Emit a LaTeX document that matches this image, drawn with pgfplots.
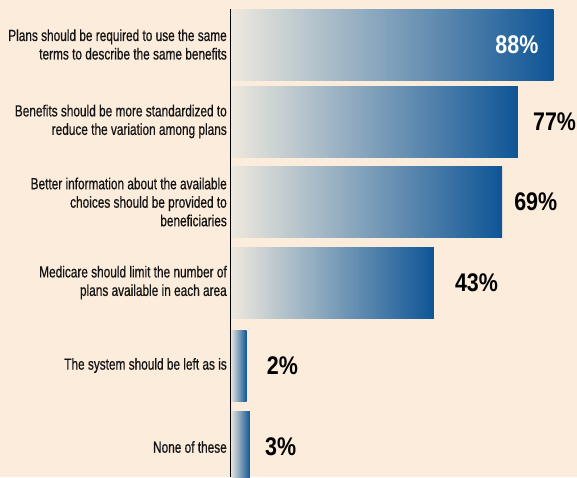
\documentclass[border=0pt]{standalone}
\usepackage{fontspec}
\setmainfont{Liberation Sans}[FakeStretch=0.74, FakeBold=0.6]
\newfontfamily\numfont{Liberation Sans}[FakeStretch=0.84]
\usepackage{pgfplots}
\pgfplotsset{compat=1.18}
\definecolor{bg}{RGB}{252,236,220}
\definecolor{barlight}{RGB}{238,233,222}
\definecolor{bardark}{RGB}{14,85,150}
\definecolor{labeltext}{RGB}{20,20,20}

\pgfplotsset{
  pct/.style={draw=none, left color=barlight, right color=bardark,
    point meta=explicit symbolic, nodes near coords,
    every node near coord/.append style={font=\numfont\bfseries\fontsize{25.5}{26}\selectfont,
      inner sep=0pt, anchor=west, text=black}},
}

\begin{document}
\begin{tikzpicture}[x=1pt,y=1pt]
\fill[bg] (0,0) rectangle (577,477);
\useasboundingbox (0,0) rectangle (577,477);
\begin{axis}[
  at={(230.5pt,0pt)}, anchor=south west,
  scale only axis, width=346.5pt, height=468pt,
  xmin=0, xmax=94.4, ymin=9, ymax=477, y dir=reverse,
  axis x line=none, axis y line*=left, axis on top,
  xtick=\empty,
  y axis line style={line width=1.5pt, color=black},
  ytick={44.5,121.5,202,282.5,365.5,447},
  yticklabels={
    {Plans should be required to use the same\\terms to describe the same benefits},
    {Benefits should be more standardized to\\reduce the variation among plans},
    {Better information about the available\\choices should be provided to\\beneficiaries},
    {Medicare should limit the number of\\plans available in each area},
    {The system should be left as is},
    {None of these}},
  major tick length=0pt,
  yticklabel style={align=right, font=\fontsize{16}{18.5}\selectfont,
    text=labeltext, inner xsep=3.5pt},
  xbar, bar width=71pt, bar shift=0pt,
]
% bar lengths as drawn (the source does not draw them to scale), labels as printed
\addplot[pct, every node near coord/.append style={anchor=east, xshift=-15pt, text=white}]
  coordinates {(88,44.5)[88\%]};
\addplot[pct, every node near coord/.append style={xshift=15pt}]
  coordinates {(78.3,121.5)[77\%]};
\addplot[pct, every node near coord/.append style={xshift=12pt}]
  coordinates {(74.0,202)[69\%]};
\addplot[pct, every node near coord/.append style={xshift=21pt}]
  coordinates {(55.4,282.5)[43\%]};
\addplot[pct, every node near coord/.append style={xshift=20pt}]
  coordinates {(4.4,365.5)[2\%]};
\addplot[pct, every node near coord/.append style={xshift=15pt}]
  coordinates {(5.3,447)[3\%]};
\end{axis}
\end{tikzpicture}
\end{document}
